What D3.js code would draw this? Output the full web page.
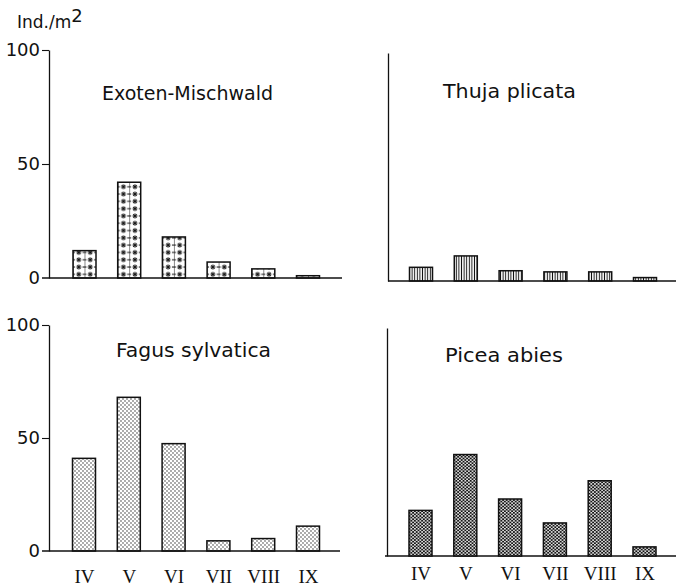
<!DOCTYPE html>
<html>
<head>
<meta charset="utf-8">
<script src="https://cdn.jsdelivr.net/npm/d3@7"></script>
<style>
  body { margin: 0; background: #fff; }
  svg { display: block; }
  text { font-family: 'DejaVu Sans', sans-serif; fill: #111; }
  .month text { font-family: 'Liberation Serif', serif; font-size: 19px; }
</style>
</head>
<body>
<svg id="chart" width="676" height="587"></svg>
<script>
// months (x categories) and densities in Ind./m2 per stand
const months = ['IV', 'V', 'VI', 'VII', 'VIII', 'IX'];
const exotenValues = [12, 42, 18, 7, 4, 1];
const thujaValues = [6, 11, 4.5, 4, 4, 1.5];
const fagusValues = [41, 68, 47.5, 4.5, 5.5, 11];
const piceaValues = [20, 44.5, 25, 14.5, 33, 4];
const yTicks = [0, 50, 100];
const titles = ['Exoten-Mischwald', 'Thuja plicata', 'Fagus sylvatica', 'Picea abies'];

const svg = d3.select('#chart');
const defs = svg.append('defs');
const barWidth = 23;

/// panel placement
const panels = [
  { title: titles[0], values: exotenValues, fill: 'stars', axisX: 49, top: 50, base: 278, lineStart: 42, lineEnd: 342,
    x0: 35.5, x1: 259, ticks: true, labels: false, titleX: 102, titleY: 100, titleW: 171 },
  { title: titles[1], values: thujaValues, fill: 'url(#vlines)', axisX: 388, top: 53, base: 281, lineStart: 388, lineEnd: 676,
    x0: 33, x1: 257, ticks: false, labels: false, titleX: 443, titleY: 98, titleW: 133 },
  { title: titles[2], values: fagusValues, fill: 'url(#dots)', axisX: 49, top: 325, base: 551, lineStart: 42, lineEnd: 340,
    x0: 35, x1: 259, ticks: true, labels: true, labelY: 583, titleX: 116, titleY: 357, titleW: 155 },
  { title: titles[3], values: piceaValues, fill: 'url(#mesh)', axisX: 387, top: 328, base: 556, lineStart: 385, lineEnd: 676,
    x0: 33.5, x1: 257.5, ticks: false, labels: true, labelY: 580, titleX: 445, titleY: 362, titleW: 118 }
];

/// hatch patterns
const vl = defs.append('pattern').attr('id', 'vlines').attr('patternUnits', 'userSpaceOnUse')
  .attr('width', 2.6).attr('height', 10);
vl.append('line').attr('x1', 1.3).attr('x2', 1.3).attr('y1', 0).attr('y2', 10)
  .attr('stroke', '#111').attr('stroke-width', 1);

const dt = defs.append('pattern').attr('id', 'dots').attr('patternUnits', 'userSpaceOnUse')
  .attr('width', 4).attr('height', 4);
dt.append('circle').attr('cx', 1).attr('cy', 1).attr('r', 0.65).attr('fill', '#111');
dt.append('circle').attr('cx', 3).attr('cy', 3).attr('r', 0.65).attr('fill', '#111');

const ms = defs.append('pattern').attr('id', 'mesh').attr('patternUnits', 'userSpaceOnUse')
  .attr('width', 3.6).attr('height', 3.2);
ms.append('rect').attr('width', 3.6).attr('height', 3.2).attr('fill', '#111');
ms.append('circle').attr('cx', 0.9).attr('cy', 0.8).attr('r', 0.9).attr('fill', '#fff');
ms.append('circle').attr('cx', 2.7).attr('cy', 2.4).attr('r', 0.9).attr('fill', '#fff');

function starPattern(id, x, y) {
  const w = barWidth / 2, h = 7.3, cx = w / 2, cy = h / 2, r = 2.4;
  const p = defs.append('pattern').attr('id', id).attr('patternUnits', 'userSpaceOnUse')
    .attr('x', x).attr('y', y).attr('width', w).attr('height', h);
  const g = p.append('g').attr('stroke', '#111').attr('stroke-width', 1);
  g.append('line').attr('x1', 0.3).attr('x2', 0.3).attr('y1', 0).attr('y2', h).attr('stroke-width', 0.6);
  g.append('line').attr('x1', 0).attr('x2', 2).attr('y1', cy).attr('y2', cy);
  g.append('line').attr('x1', w - 2).attr('x2', w).attr('y1', cy).attr('y2', cy);
  g.append('line').attr('x1', cx).attr('x2', cx).attr('y1', cy - r).attr('y2', cy + r);
  g.append('line').attr('x1', cx - r).attr('x2', cx + r).attr('y1', cy).attr('y2', cy);
  g.append('line').attr('x1', cx - r * 0.75).attr('x2', cx + r * 0.75).attr('y1', cy - r * 0.75).attr('y2', cy + r * 0.75);
  g.append('line').attr('x1', cx - r * 0.75).attr('x2', cx + r * 0.75).attr('y1', cy + r * 0.75).attr('y2', cy - r * 0.75);
}

panels.forEach((p, pi) => {
  const x = d3.scalePoint().domain(months).range([p.axisX + p.x0, p.axisX + p.x1]);
  const y = d3.scaleLinear().domain([0, 100]).range([p.base, p.top]);
  const g = svg.append('g');

  // baseline and vertical axis
  g.append('line').attr('x1', p.lineStart).attr('x2', p.lineEnd).attr('y1', y(0)).attr('y2', y(0))
    .attr('stroke', '#111').attr('stroke-width', 1.3);

  const yAxis = d3.axisLeft(y).tickValues(p.ticks ? yTicks : []).tickSize(7).tickSizeOuter(0).tickPadding(2);
  const ax = g.append('g').attr('transform', `translate(${p.axisX},0)`).call(yAxis);
  ax.select('.domain').attr('stroke', '#111').attr('stroke-width', 1.3);
  ax.selectAll('.tick line').attr('stroke', '#111').attr('stroke-width', 1.1);
  ax.selectAll('.tick').filter(d => d === 0).select('line').remove();
  ax.selectAll('.tick text').attr('font-size', 18).attr('font-family', null).attr('fill', '#111');

  if (p.labels) {
    const xAxis = d3.axisBottom(x).tickSize(0).tickPadding(p.labelY - p.base - 13.5);
    const bx = g.append('g').attr('class', 'month').attr('transform', `translate(0,${p.base})`).call(xAxis);
    bx.select('.domain').remove();
    bx.selectAll('.tick text').attr('font-family', null).attr('font-size', null).attr('fill', '#111');
  }

  // bars
  g.selectAll('rect.bar')
    .data(p.values)
    .enter()
    .append('rect')
    .attr('class', 'bar')
    .attr('x', (d, i) => x(months[i]) - barWidth / 2)
    .attr('y', d => y(d))
    .attr('width', barWidth)
    .attr('height', d => y(0) - y(d))
    .attr('fill', (d, i) => {
      if (p.fill !== 'stars') return p.fill;
      const id = `stars-${i}`;
      starPattern(id, x(months[i]) - barWidth / 2, y(0));
      return `url(#${id})`;
    })
    .attr('stroke', '#111')
    .attr('stroke-width', 1.5);

  g.append('text')
    .attr('x', p.titleX).attr('y', p.titleY)
    .attr('font-size', 19)
    .attr('textLength', p.titleW).attr('lengthAdjust', 'spacingAndGlyphs')
    .text(p.title);
});

// unit label
const unit = svg.append('text').attr('x', 17).attr('y', 28).attr('font-size', 17);
unit.append('tspan').text('Ind./m');
unit.append('tspan').attr('dy', -6).attr('font-size', 18).text('2');
</script>
</body>
</html>
